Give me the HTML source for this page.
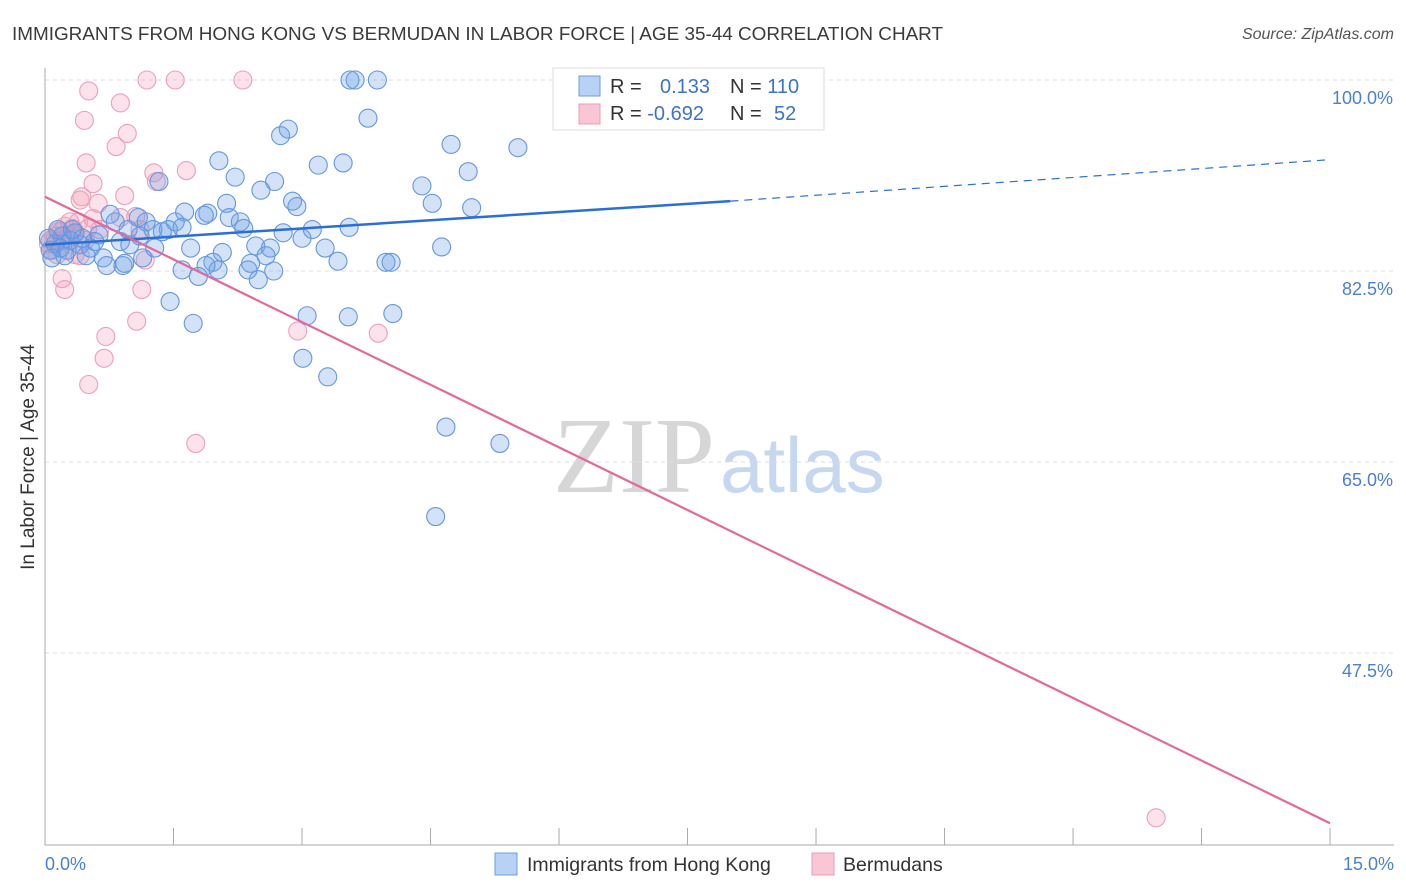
<!DOCTYPE html>
<html><head><meta charset="utf-8"><style>
body{margin:0;background:#fff;font-family:"Liberation Sans",sans-serif;}
#wrap{position:relative;width:1406px;height:892px;overflow:hidden;}
</style></head><body>
<div id="wrap">
<svg id="svg" width="1406" height="892" xmlns="http://www.w3.org/2000/svg">
<text x="12" y="40" font-size="18.9" fill="#3a3a3a">IMMIGRANTS FROM HONG KONG VS BERMUDAN IN LABOR FORCE | AGE 35-44 CORRELATION CHART</text>
<text x="1394" y="39" font-size="16" fill="#555" font-style="italic" text-anchor="end">Source: ZipAtlas.com</text>
<g>
<text x="553" y="492" font-size="108" fill="#d6d6d6" font-family="Liberation Serif, serif">ZIP</text>
<text x="720" y="492" font-size="78" fill="#c5d8f0">atlas</text>
</g>
<g id="grid"></g>
<g id="axes"></g>
<g id="pts"></g>
<g id="trend"></g>
<g>
<rect x="553" y="68" width="271" height="62" fill="#fff" stroke="#ddd"/>
<rect x="579" y="76" width="21" height="20" fill="#b8d2f5" stroke="#6a9ee0"/>
<rect x="579" y="104" width="21" height="20" fill="#f9c6d5" stroke="#ee9cb6"/>
<text x="610" y="93" font-size="20" fill="#333">R = <tspan fill="#3b73cc" x="660">0.133</tspan></text>
<text x="730" y="93" font-size="20" fill="#333">N = <tspan fill="#3b73cc">110</tspan></text>
<text x="610" y="120" font-size="20" fill="#333">R = <tspan fill="#3b73cc">-0.692</tspan></text>
<text x="730" y="120" font-size="20" fill="#333">N = <tspan fill="#3b73cc" x="774">52</tspan></text>
</g>
<g>
<rect x="495" y="853" width="22" height="22" fill="#b8d2f5" stroke="#6a9ee0"/>
<text x="527" y="871" font-size="19.5" fill="#333">Immigrants from Hong Kong</text>
<rect x="812" y="853" width="22" height="22" fill="#f9c6d5" stroke="#ee9cb6"/>
<text x="843" y="871" font-size="19.5" fill="#333">Bermudans</text>
</g>
<text transform="translate(34,457) rotate(-90)" font-size="19" fill="#333" text-anchor="middle">In Labor Force | Age 35-44</text>
</svg>
</div>
<script>
const blueX=[3.56,3.62,3.88,6.28,6.97,3.77,2.75,2.84,4.74,5.52,2.03,3.19,3.48,4.94,2.22,1.33,2.68,2.52,4.40,2.89,2.94,2.12,4.52,4.98,1.63,1.90,1.86,1.09,0.76,0.82,1.18,1.52,2.15,2.28,1.26,1.44,1.60,0.97,1.37,2.32,2.78,3.12,3.55,3.00,2.46,2.63,3.27,1.70,2.07,3.42,0.63,0.88,0.99,1.28,0.53,0.41,0.29,0.20,0.12,0.06,0.48,0.68,0.91,0.72,1.14,0.93,1.96,1.88,1.60,2.02,1.79,2.40,2.58,2.37,2.67,2.49,3.98,4.04,1.46,3.06,3.54,4.06,1.73,3.01,3.30,4.68,5.31,4.56,4.63,1.11,0.58,0.23,0.15,0.04,0.35,0.26,0.18,0.44,0.08,0.32];
const blueY=[100,100,100,100,100,96.5,94.9,95.5,94.1,93.8,92.6,92.2,92.4,91.6,91.1,90.7,90.7,89.9,90.3,88.9,88.4,88.7,88.7,88.3,87.9,87.8,87.6,87.4,87.7,87.0,87.0,87.0,87.4,87.0,86.3,86.3,86.5,86.3,86.1,86.4,86.0,86.3,86.5,85.5,84.8,84.6,84.6,84.6,84.2,83.4,85.8,85.2,84.9,84.6,84.6,84.9,85.3,85.7,85.0,84.4,83.9,83.7,83.0,83.0,83.7,83.2,83.3,83.0,82.6,82.6,82.0,83.2,83.9,82.6,82.5,81.7,83.3,83.3,79.7,78.4,78.3,78.6,77.7,74.5,72.8,68.2,66.7,60.0,84.7,85.7,85.2,83.9,86.3,85.5,86.0,84.4,84.6,85.5,83.7,86.3];
const pinkX=[1.19,1.52,2.31,0.51,0.88,0.46,0.96,0.83,0.48,1.27,1.65,0.56,1.30,0.93,0.43,0.41,0.62,1.06,0.56,0.88,0.29,0.39,0.23,0.15,0.12,0.06,0.04,0.20,0.27,0.35,0.32,0.50,0.64,1.17,0.41,0.20,0.23,1.13,1.07,0.71,0.69,0.51,2.95,3.89,1.76,12.97,0.08,0.14,0.18,0.47,0.35,1.11];
const pinkY=[100,100,100,99.0,97.9,96.3,95.1,93.9,92.4,91.5,91.7,90.5,90.7,89.4,89.3,89.0,88.7,87.5,87.3,87.4,87.0,87.0,86.6,86.1,85.7,85.3,85.0,85.3,85.5,85.9,86.4,86.4,86.3,83.5,83.9,81.8,80.8,80.8,77.9,76.5,74.5,72.1,77.0,76.8,66.7,32.4,84.4,84.0,86.1,85.3,84.0,86.3];
const yTicks=[100,82.5,65,47.5];
const yTickLabels=["100.0%","82.5%","65.0%","47.5%"];
const xTicks=[0,1.5,3,4.5,6,7.5,9,10.5,12,13.5,15];
const blueTrend=[[0,84.9],[8,88.9],[15,92.7]];
const pinkTrend=[[0,89.3],[15,31.9]];

const NS="http://www.w3.org/2000/svg";
const sx=v=>45+v*85.67;
const sy=v=>80+(100-v)*10.914;
function mk(tag,attrs,parent){const e=document.createElementNS(NS,tag);for(const k in attrs)e.setAttribute(k,attrs[k]);parent.appendChild(e);return e;}
const grid=document.getElementById('grid'),axes=document.getElementById('axes'),pts=document.getElementById('pts'),trend=document.getElementById('trend');
yTicks.forEach((t,i)=>{
  const l=mk('line',{x1:45,x2:1394,y1:sy(t),y2:sy(t),stroke:'#ddd','stroke-dasharray':'4,4'},grid);
  
  
  const tx=mk('text',{x:1393,y:sy(t)+24,'font-size':18,fill:'#4a7fd6','text-anchor':'end'},axes);
  tx.textContent=yTickLabels[i];
  
  
});
let a=mk('line',{x1:45,x2:45,y1:68,y2:845,stroke:'#aaa'},axes);


a=mk('line',{x1:45,x2:1394,y1:845,y2:845,stroke:'#aaa'},axes);


xTicks.forEach(t=>{
  const l=mk('line',{x1:sx(t),x2:sx(t),y1:828,y2:845,stroke:'#aaa'},axes);
  
  
});
let t0=mk('text',{x:45,y:870,'font-size':18,fill:'#4a7fd6'},axes);t0.textContent='0.0%';


let t1=mk('text',{x:1394,y:870,'font-size':18,fill:'#4a7fd6','text-anchor':'end'},axes);t1.textContent='15.0%';


pinkX.forEach((x,i)=>{
  const c=mk('circle',{cx:sx(x),cy:sy(pinkY[i]),r:9,fill:'rgba(244,150,180,0.28)',stroke:'#ee9fb8','stroke-width':1.1},pts);
  
  
});
blueX.forEach((x,i)=>{
  const c=mk('circle',{cx:sx(x),cy:sy(blueY[i]),r:9,fill:'rgba(110,160,230,0.3)',stroke:'#6497e0','stroke-width':1.1},pts);
  
  
});
let b=mk('line',{x1:sx(blueTrend[0][0]),y1:sy(blueTrend[0][1]),x2:sx(blueTrend[1][0]),y2:sy(blueTrend[1][1]),stroke:'#2a6fd4','stroke-width':2.5},trend);


b=mk('line',{x1:sx(blueTrend[1][0]),y1:sy(blueTrend[1][1]),x2:sx(blueTrend[2][0]),y2:sy(blueTrend[2][1]),stroke:'#2a6fd4','stroke-width':1.2,'stroke-dasharray':'8,6'},trend);


b=mk('line',{x1:sx(pinkTrend[0][0]),y1:sy(pinkTrend[0][1]),x2:sx(pinkTrend[1][0]),y2:sy(pinkTrend[1][1]),stroke:'#e4689a','stroke-width':2.2},trend);


</script>
</body></html>
